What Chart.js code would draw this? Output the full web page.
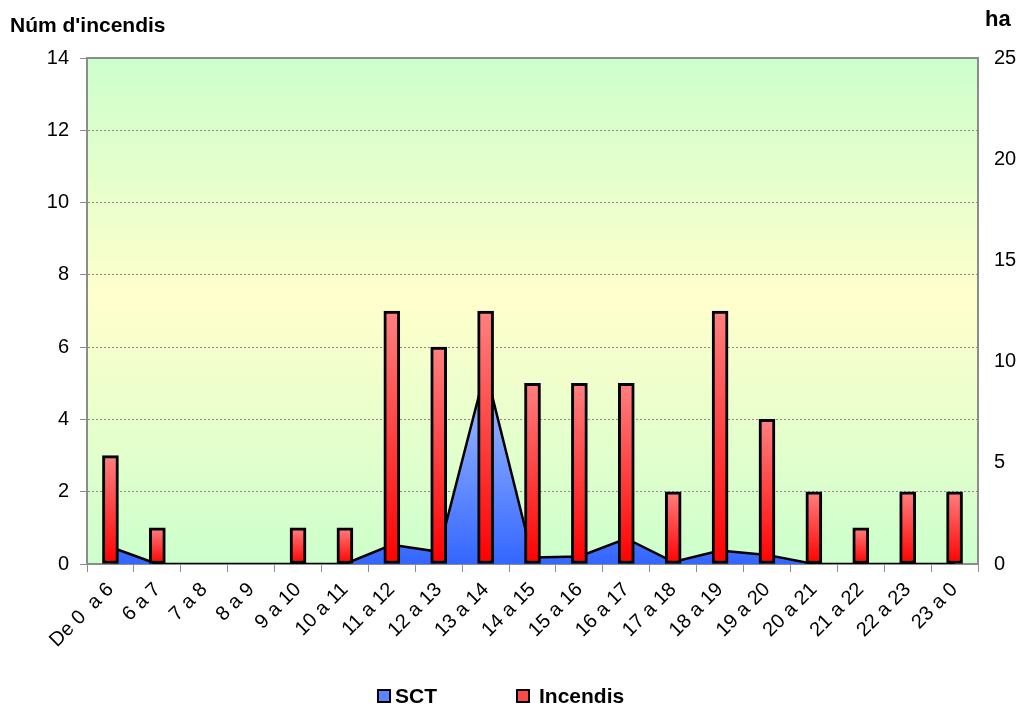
<!DOCTYPE html>
<html>
<head>
<meta charset="utf-8">
<script src="https://cdn.jsdelivr.net/npm/chart.js@4/dist/chart.umd.min.js"></script>
<style>
  html, body { margin: 0; padding: 0; background: #ffffff; }
  #wrap { width: 1024px; height: 706px; }
</style>
</head>
<body>
<div id="wrap"><canvas id="c" width="1024" height="706"></canvas></div>
<script>
const categories = ["De 0  a 6", "6 a 7", "7 a 8", "8 a 9", "9 a 10", "10 a 11", "11 a 12", "12 a 13", "13 a 14", "14 a 15", "15 a 16", "16 a 17", "17 a 18", "18 a 19", "19 a 20", "20 a 21", "21 a 22", "22 a 23", "23 a 0"];
const incendis = [3, 1, 0, 0, 1, 1, 7, 6, 7, 5, 5, 5, 2, 7, 4, 2, 1, 2, 2];
const sctHa = [0.84, 0, 0, 0, 0, 0, 0.95, 0.6, 9.6, 0.32, 0.37, 1.26, 0.1, 0.67, 0.45, 0, 0, 0, 0];
const leftTicks = [0, 2, 4, 6, 8, 10, 12, 14];
const rightTicks = [0, 5, 10, 15, 20, 25];
const leftTitle = "Núm d'incendis";
const rightTitle = "ha";

const FONT = "Arial, 'Liberation Sans', sans-serif";

function barGradient(ctx) {
  const chart = ctx.chart;
  if (!chart.chartArea || ctx.type !== 'data') return '#ff4040';
  const ys = chart.scales.y;
  const top = ys.getPixelForValue(ctx.raw);
  const bot = ys.getPixelForValue(0);
  if (!isFinite(top) || Math.abs(bot - top) < 1) return '#ff2020';
  const g = chart.ctx.createLinearGradient(0, top, 0, bot);
  g.addColorStop(0, '#ff8080');
  g.addColorStop(1, '#ff0000');
  return g;
}

function areaGradient(ctx) {
  const chart = ctx.chart;
  if (!chart.chartArea) return '#3366ff';
  const ys = chart.scales.y1;
  const top = ys.getPixelForValue(Math.max.apply(null, sctHa));
  const bot = ys.getPixelForValue(0);
  const g = chart.ctx.createLinearGradient(0, top, 0, bot);
  g.addColorStop(0, '#a9c4ff');
  g.addColorStop(1, '#3366ff');
  return g;
}

const bgPlugin = {
  id: 'plotBg',
  beforeDraw(chart) {
    const {ctx, chartArea: a} = chart;
    ctx.save();
    const g = ctx.createLinearGradient(0, a.top, 0, a.bottom);
    g.addColorStop(0, '#ccffcc');
    g.addColorStop(0.48, '#ffffcc');
    g.addColorStop(1, '#ccffcc');
    ctx.fillStyle = g;
    ctx.fillRect(a.left, a.top, a.right - a.left, a.bottom - a.top);
    ctx.restore();
  },
  beforeDatasetsDraw(chart) {
    const {ctx, chartArea: a} = chart;
    ctx.save();
    ctx.strokeStyle = '#8c8c8c';
    ctx.lineWidth = 2;
    ctx.strokeRect(a.left, a.top, a.right - a.left, a.bottom - a.top);
    ctx.restore();
  },
  afterDraw(chart) {
    const {ctx} = chart;
    ctx.save();
    ctx.fillStyle = '#000';
    ctx.font = 'bold 21px ' + FONT;
    ctx.textBaseline = 'alphabetic';
    ctx.textAlign = 'left';
    ctx.fillText(leftTitle, 10, 32);
    ctx.font = 'bold 22px ' + FONT;
    ctx.fillText(rightTitle, 985, 26);

    // legend
    const items = [
      {label: chart.data.datasets[0].label, x: 378, fill: '#5b85ff'},
      {label: chart.data.datasets[1].label, x: 517, fill: '#ff4a4a'}
    ];
    ctx.font = 'bold 21px ' + FONT;
    items.forEach((it, i) => {
      ctx.fillStyle = it.fill;
      ctx.fillRect(it.x, 690, 12, 12);
      ctx.strokeStyle = '#000';
      ctx.lineWidth = 2;
      ctx.strokeRect(it.x, 690, 12, 12);
      ctx.fillStyle = '#000';
      ctx.fillText(it.label, it.x + (i === 0 ? 17 : 22), 703);
    });
    ctx.restore();
  }
};

new Chart(document.getElementById('c'), {
  data: {
    labels: categories,
    datasets: [
      {
        type: 'line',
        label: 'SCT',
        data: sctHa,
        yAxisID: 'y1',
        order: 2,
        fill: 'origin',
        tension: 0,
        pointRadius: 0,
        borderColor: '#000000',
        borderWidth: 2.5,
        backgroundColor: areaGradient
      },
      {
        type: 'bar',
        label: 'Incendis',
        data: incendis,
        yAxisID: 'y',
        order: 1,
        barThickness: 16,
        borderColor: '#000000',
        borderWidth: 3,
        borderSkipped: false,
        backgroundColor: barGradient
      }
    ]
  },
  options: {
    responsive: false,
    animation: false,
    layout: { padding: { top: 58, left: 0, right: 0, bottom: 0 } },
    plugins: {
      legend: { display: false },
      tooltip: { enabled: false }
    },
    scales: {
      x: {
        offset: true,
        grid: { display: true, drawOnChartArea: false, tickLength: 8, color: '#8c8c8c' },
        border: { display: true, color: '#000000', width: 2 },
        ticks: {
          color: '#000',
          font: { family: FONT, size: 20 },
          minRotation: 45,
          maxRotation: 45,
          autoSkip: false,
          padding: 6
        },
        afterFit(scale) { scale.height = 142; }
      },
      y: {
        position: 'left',
        min: 0,
        max: 14,
        afterBuildTicks(scale) { scale.ticks = leftTicks.map(v => ({value: v})); },
        grid: {
          color: '#8c8c8c',
          lineWidth: 1,
          tickLength: 7,
          tickColor: '#8c8c8c',
          tickBorderDash: []
        },
        border: { display: true, color: '#8c8c8c', width: 2, dash: [2, 2] },
        ticks: { color: '#000', font: { family: FONT, size: 20 }, padding: 11 },
        afterFit(scale) { scale.width = 87; }
      },
      y1: {
        position: 'right',
        min: 0,
        max: 25,
        afterBuildTicks(scale) { scale.ticks = rightTicks.map(v => ({value: v})); },
        grid: { drawOnChartArea: false, drawTicks: false },
        border: { display: false },
        ticks: { color: '#000', font: { family: FONT, size: 20 }, padding: 16 },
        afterFit(scale) { scale.width = 46; }
      }
    }
  },
  plugins: [bgPlugin]
});
</script>
</body>
</html>
